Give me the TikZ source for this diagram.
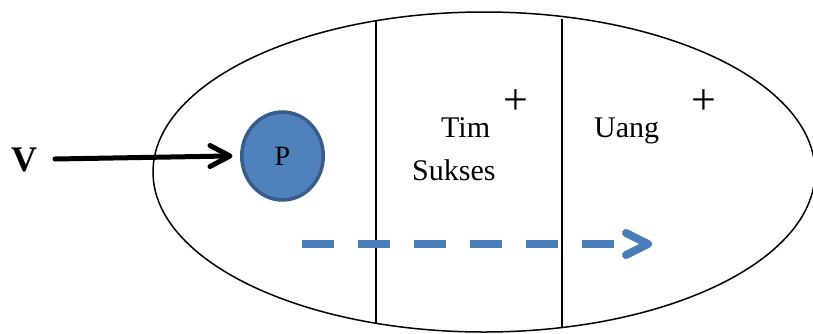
\documentclass[tikz,border=0pt]{standalone}
\usepackage{fontspec}
\setmainfont{Liberation Serif}
\usetikzlibrary{shapes.geometric,calc}
\definecolor{pfill}{HTML}{4F81BD}
\definecolor{pedge}{HTML}{385D8A}
\definecolor{flow}{HTML}{4A7EBB}
\tikzset{
  divider/.style={line width=1.4pt},
  lbl/.style={inner sep=0pt, anchor=base west, font=\fontsize{30}{30}\selectfont},
  plus/.style={inner sep=0pt, font=\fontsize{44}{44}\selectfont},
  flowline/.style={flow, line width=8pt, line cap=butt},
  blackarrow/.style={black, line width=5pt, line cap=round, line join=round}
}
\begin{document}
\begin{tikzpicture}[x=1pt,y=-1pt]
\useasboundingbox (0,0) rectangle (813,333);
\begin{scope}
  \clip (0,0) rectangle (813,333);
  \draw[line width=1.5pt] (484,172) ellipse [x radius=331, y radius=160];
\end{scope}
% dividers
\coordinate (d1t) at (376,21);
\coordinate (d1b) at (376,324);
\coordinate (d2t) at (562,19);
\coordinate (d2b) at (562,328);
\draw[divider] (d1t) -- (d1b);
\draw[divider] (d2t) -- (d2b);
% V and P
\node[inner sep=0pt, font=\bfseries\fontsize{36}{36}\selectfont] (V) at (24,160) {V};
\node[ellipse, draw=pedge, fill=pfill, line width=3.5pt, minimum width=81.5pt, minimum height=88pt, inner sep=0pt,
      font=\fontsize{28}{28}\selectfont] (P) at (282.5,156) {P};
\coordinate (vs) at (55,159);
\draw[blackarrow] (vs) -- ($(P.west)+(-12,0)$);
\draw[blackarrow] ($(P.west)+(-30,-10.5)$) -- ($(P.west)+(-10,0)$) -- ($(P.west)+(-30,10.5)$);
% labels
\node[lbl] (tim) at (441,137) {Tim};
\node[lbl] (sukses) at (412,180) {Sukses};
\node[lbl] (uang) at (594,137) {Uang};
\node[plus] (plus1) at (516,102) {+};
\node[plus] (plus2) at (704,102) {+};
% dashed flow arrow
\coordinate (fs) at (302,244);
\coordinate (fe) at (614,244);
\coordinate (ft) at (648,244);
\draw[flowline, dash pattern=on 32pt off 24pt] (fs) -- (fe);
\draw[flow, line width=8pt, line cap=round, line join=round] ($(ft)+(-22,-11)$) -- (ft) -- ($(ft)+(-22,11)$);
\end{tikzpicture}
\end{document}
